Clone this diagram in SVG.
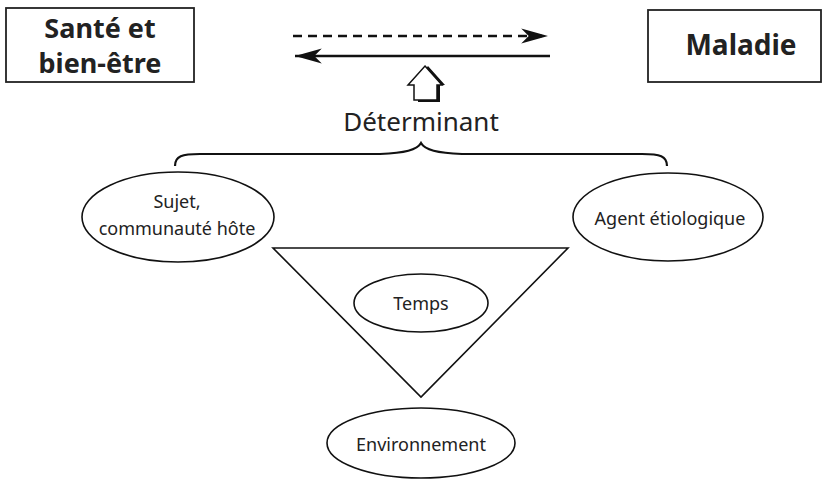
<svg xmlns="http://www.w3.org/2000/svg" width="827" height="480" viewBox="0 0 827 480">
<style>
.box{fill:#fff;stroke:#222;stroke-width:1.8}
.ell{fill:#fff;stroke:#111;stroke-width:1.6}
.bt{font-family:"Noto Sans","Open Sans",sans-serif;font-weight:bold;font-size:27px;fill:#222;text-anchor:middle}
.lt{font-family:"Noto Sans","Open Sans",sans-serif;font-size:18px;fill:#222;text-anchor:middle}
.conn{fill:none;stroke:#111;stroke-width:2.5}
</style>
<defs>
<marker id="ah" markerUnits="userSpaceOnUse" markerWidth="30" markerHeight="20" viewBox="-26 -8 28 16" refX="0" refY="0" orient="auto">
<path d="M0,0 L-25,-7 L-18,0 L-25,7 Z" fill="#111"/>
</marker>
</defs>
<g id="sante">
<rect class="box" x="6" y="8" width="188" height="74"/>
<text class="bt" x="100" y="38">Santé et</text>
<text class="bt" x="100" y="73">bien-être</text>
</g>
<g id="maladie">
<rect class="box" x="648" y="10" width="173" height="72"/>
<text class="bt" x="741" y="55" style="font-size:28px">Maladie</text>
</g>
<g id="connectors">
<line class="conn" x1="293" y1="36" x2="548" y2="36" stroke-dasharray="9,6" marker-end="url(#ah)"/>
<line class="conn" x1="550" y1="56" x2="295" y2="56" marker-end="url(#ah)"/>
</g>
<g id="fleche">
<polygon points="428,66 445,85 440,85 440,102 418,102 418,85 413,85" fill="#111"/>
<polygon points="425,66 442,85 437,85 437,100 414,100 414,85 408,85" fill="#fff" stroke="#111" stroke-width="1.5" stroke-linejoin="miter"/>
</g>
<g id="determinant">
<text class="lt" x="421" y="131" style="font-size:26px">Déterminant</text>
</g>
<g id="accolade">
<path d="M175,166 C175,156 182,154 200,154 L380,154 C405,153 417,150 421,143 C425,150 437,153 462,154 L642,154 C660,154 667,156 667,166" fill="none" stroke="#111" stroke-width="2.2"/>
</g>
<g id="triangle">
<polygon points="273,248 568,248 421,397" fill="none" stroke="#111" stroke-width="1.6"/>
</g>
<g id="sujet">
<ellipse class="ell" cx="178" cy="217" rx="96" ry="45"/>
<text class="lt" x="177" y="208">Sujet,</text>
<text class="lt" x="177" y="235">communauté hôte</text>
</g>
<g id="agent">
<ellipse class="ell" cx="668" cy="217" rx="95" ry="44"/>
<text class="lt" x="670" y="225">Agent étiologique</text>
</g>
<g id="temps">
<ellipse class="ell" cx="421" cy="303" rx="67" ry="29"/>
<text class="lt" x="421" y="310">Temps</text>
</g>
<g id="environnement">
<ellipse class="ell" cx="421" cy="443" rx="94" ry="35"/>
<text class="lt" x="421" y="451">Environnement</text>
</g>
</svg>
